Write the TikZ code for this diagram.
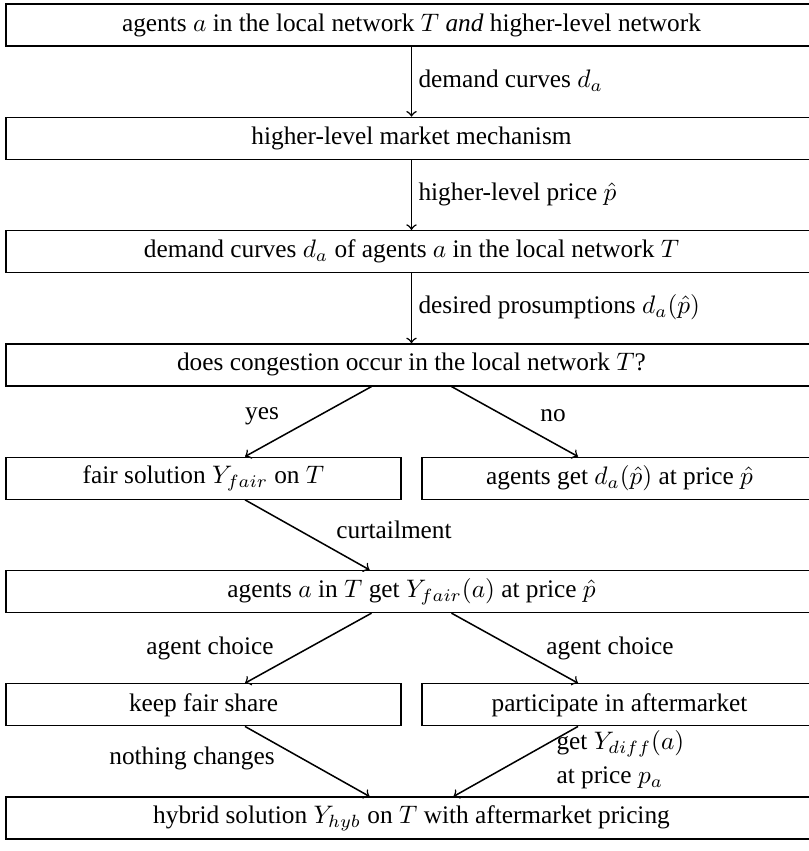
\documentclass[tikz,border=0pt]{standalone}
\usepackage{fontspec}
\setmainfont{Liberation Serif}
\usetikzlibrary{calc}
\tikzset{
  fullbox/.style={draw, line width=0.5pt, minimum width=320.3pt, minimum height=16.6pt, inner sep=0pt, font=\fontsize{10}{12}\selectfont},
  halfbox/.style={draw, line width=0.5pt, minimum width=156pt, minimum height=16.6pt, inner sep=0pt, font=\fontsize{10}{12}\selectfont},
  lbl/.style={inner sep=0pt, font=\fontsize{10}{13.4}\selectfont},
  conn/.style={->, line width=0.6pt}
}
\begin{document}
\begin{tikzpicture}[x=0.395pt, y=-0.395pt]
\useasboundingbox (0,0) rectangle (809,851);
\node[fullbox] (b1) at (411.5,25) {agents $a$ in the local network $T$ \emph{and} higher-level network};
\node[fullbox] (b2) at (411.5,138.3) {higher-level market mechanism};
\node[fullbox] (b3) at (411.5,251.6) {demand curves $d_a$ of agents $a$ in the local network $T$};
\node[fullbox] (b4) at (411.5,364.9) {does congestion occur in the local network $T$?};
\node[halfbox] (yes) at (203.5,478.2) {fair solution $Y_{fair}$ on $T$};
\node[halfbox] (no) at (619.5,478.2) {agents get $d_a(\hat{p})$ at price $\hat{p}$};
\node[fullbox] (b6) at (411.5,591.5) {agents $a$ in $T$ get $Y_{fair}(a)$ at price $\hat{p}$};
\node[halfbox] (keep) at (203.5,704.8) {keep fair share};
\node[halfbox] (part) at (619.5,704.8) {participate in aftermarket};
\node[fullbox] (b8) at (411.5,818.1) {hybrid solution $Y_{hyb}$ on $T$ with aftermarket pricing};

\draw[conn] (b1.south) -- (b2.north);
\draw[conn] (b2.south) -- (b3.north);
\draw[conn] (b3.south) -- (b4.north);
\draw[conn] ($(b4.south)+(-40,0)$) -- ($(yes.north)+(41.5,0)$);
\draw[conn] ($(b4.south)+(40,0)$) -- ($(no.north)+(-41.5,0)$);
\draw[conn] ($(yes.south)+(41.5,0)$) -- ($(b6.north)+(-42,0)$);
\draw[conn] ($(b6.south)+(-40,0)$) -- ($(keep.north)+(41.5,0)$);
\draw[conn] ($(b6.south)+(40,0)$) -- ($(part.north)+(-41.5,0)$);
\draw[conn] ($(keep.south)+(41.5,0)$) -- ($(b8.north)+(-42,0)$);
\draw[conn] ($(part.south)+(-41.5,0)$) -- ($(b8.north)+(42,0)$);

\node[lbl, anchor=west] (l1) at (418,81) {demand curves $d_a$};
\node[lbl, anchor=west] (l2) at (418,194.5) {higher-level price $\hat{p}$};
\node[lbl, anchor=west] (l3) at (418,307.5) {desired prosumptions $d_a(\hat{p})$};
\node[lbl] (lyes) at (262,416) {yes};
\node[lbl] (lno) at (553,416) {no};
\node[lbl] (lcur) at (394,530) {curtailment};
\node[lbl] (lac1) at (210,648) {agent choice};
\node[lbl] (lac2) at (610,648) {agent choice};
\node[lbl] (lnc) at (192,758) {nothing changes};
\node[lbl, anchor=west, align=left] (lget) at (556,760) {get $Y_{diff}(a)$\\at price $p_a$};
\end{tikzpicture}
\end{document}
